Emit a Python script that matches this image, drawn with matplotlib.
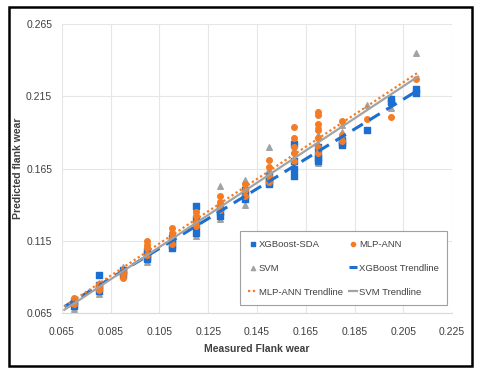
import numpy as np
import matplotlib.pyplot as plt
from matplotlib.patches import Rectangle

plt.rcParams['font.family'] = ['Liberation Sans', 'DejaVu Sans']

# measured flank wear levels
measured = [0.07, 0.08, 0.09, 0.10, 0.11, 0.12, 0.13, 0.14, 0.15, 0.16, 0.17, 0.18, 0.19, 0.20, 0.21]

# predictions at each measured level
xgb_pred = [[0.070, 0.072, 0.073], [0.091, 0.082, 0.080, 0.084], [0.095, 0.093, 0.091],
            [0.104, 0.106, 0.108, 0.102], [0.112, 0.115, 0.117, 0.110],
            [0.139, 0.125, 0.120, 0.130], [0.138, 0.135, 0.132], [0.150, 0.147, 0.144],
            [0.158, 0.156, 0.160, 0.154], [0.182, 0.170, 0.165, 0.160],
            [0.180, 0.175, 0.170, 0.172], [0.181, 0.185, 0.183], [0.192],
            [0.213, 0.211], [0.217, 0.220]]
mlp_pred = [[0.075, 0.073, 0.071], [0.085, 0.083, 0.081], [0.089, 0.092, 0.094],
            [0.115, 0.112, 0.110, 0.105], [0.124, 0.120, 0.117, 0.113],
            [0.135, 0.132, 0.128, 0.125], [0.146, 0.142, 0.140, 0.136],
            [0.154, 0.150, 0.146], [0.171, 0.166, 0.160, 0.156],
            [0.194, 0.186, 0.180, 0.176, 0.170],
            [0.204, 0.202, 0.196, 0.192, 0.186, 0.180, 0.176],
            [0.198, 0.188, 0.184], [0.199], [0.201], [0.227]]
svm_pred = [[0.070, 0.068, 0.072, 0.074], [0.078, 0.080, 0.083, 0.086], [0.093, 0.095, 0.097],
            [0.100, 0.103, 0.106, 0.109, 0.112], [0.110, 0.113, 0.116, 0.119, 0.122],
            [0.118, 0.122, 0.126, 0.130, 0.134, 0.138], [0.153, 0.140, 0.136, 0.133, 0.130],
            [0.157, 0.152, 0.148, 0.144, 0.140], [0.180, 0.165, 0.161, 0.158, 0.155],
            [0.185, 0.178, 0.172, 0.167, 0.162], [0.195, 0.188, 0.182, 0.177, 0.172, 0.169],
            [0.195, 0.190, 0.186], [0.209], [0.214, 0.207], [0.245]]

xticks = [0.065, 0.085, 0.105, 0.125, 0.145, 0.165, 0.185, 0.205, 0.225]
yticks = [0.065, 0.115, 0.165, 0.215, 0.265]

blue = '#1c6fd1'
orange = '#f57c24'
gray = '#a3a3a3'


def flatten(pred):
    xs, ys = [], []
    for m, vals in zip(measured, pred):
        xs += [m] * len(vals)
        ys += vals
    return np.array(xs), np.array(ys)


fig = plt.figure(figsize=(4.8, 3.77), dpi=100)
ax = fig.add_axes([0.129, 0.170, 0.813, 0.766])

xx, yx = flatten(xgb_pred)
xm, ym = flatten(mlp_pred)
xs, ys = flatten(svm_pred)

h1 = ax.scatter(xx, yx, marker='s', s=14, color=blue, zorder=3, label='XGBoost-SDA')
h2 = ax.scatter(xm, ym, marker='o', s=16, color=orange, zorder=3, label='MLP-ANN')
h3 = ax.scatter(xs, ys, marker='^', s=16, color=gray, zorder=2, label='SVM')

# linear trendlines
xl = np.linspace(min(measured) - 0.004, max(measured) + 0.001, 50)
p = np.polyfit(xx, yx, 1)
h4, = ax.plot(xl, np.polyval(p, xl), color=blue, lw=2.2, ls=(0, (4, 2.5)), zorder=4, label='XGBoost Trendline')
p = np.polyfit(xm, ym, 1)
h5, = ax.plot(xl, np.polyval(p, xl), color=orange, lw=1.6, ls=(0, (1, 1.2)), zorder=5, label='MLP-ANN Trendline')
p = np.polyfit(xs, ys, 1)
h6, = ax.plot(xl, np.polyval(p, xl), color=gray, lw=1.6, zorder=4, label='SVM Trendline')

ax.set_xlim(0.065, 0.225)
ax.set_ylim(0.065, 0.265)
ax.set_xticks(xticks)
ax.set_yticks(yticks)
ax.set_xticklabels([f'{v:.3f}' for v in xticks])
ax.set_yticklabels([f'{v:.3f}' for v in yticks])
ax.tick_params(length=0, labelsize=7.5, colors='#404040')
ax.tick_params(axis='x', pad=10)
ax.tick_params(axis='y', pad=7)
ax.grid(True, color='#e6e6e6', lw=0.8)
ax.set_axisbelow(True)
for s in ax.spines.values():
    s.set_visible(False)
ax.spines['bottom'].set_visible(True)
ax.spines['bottom'].set_color('#d9d9d9')

ax.set_xlabel('Measured Flank wear', fontsize=7.5, color='#404040', fontweight='bold', labelpad=5)
ax.set_ylabel('Predicted flank wear', fontsize=7.5, color='#404040', fontweight='bold', labelpad=2)

leg = ax.legend([h1, h3, h5, h2, h4, h6],
                ['XGBoost-SDA', 'SVM', 'MLP-ANN Trendline', 'MLP-ANN', 'XGBoost Trendline', 'SVM Trendline'],
                ncol=2, loc='lower left', bbox_to_anchor=(0.444, 0.01, 0.556, 0.31), mode='expand',
                fontsize=6.8, fancybox=False, edgecolor='#a0a0a0', framealpha=1,
                handlelength=0.9, handletextpad=0.2, labelspacing=1.6, borderpad=0.9,
                markerscale=0.75, columnspacing=1.2)
leg.get_frame().set_linewidth(0.8)
for t in leg.get_texts():
    t.set_color('#404040')

# outer frame
fig.patches.append(Rectangle((0.018, 0.029), 0.965, 0.952, transform=fig.transFigure,
                             fill=False, edgecolor='black', lw=1.8))

fig.savefig('out.png', dpi=100)
